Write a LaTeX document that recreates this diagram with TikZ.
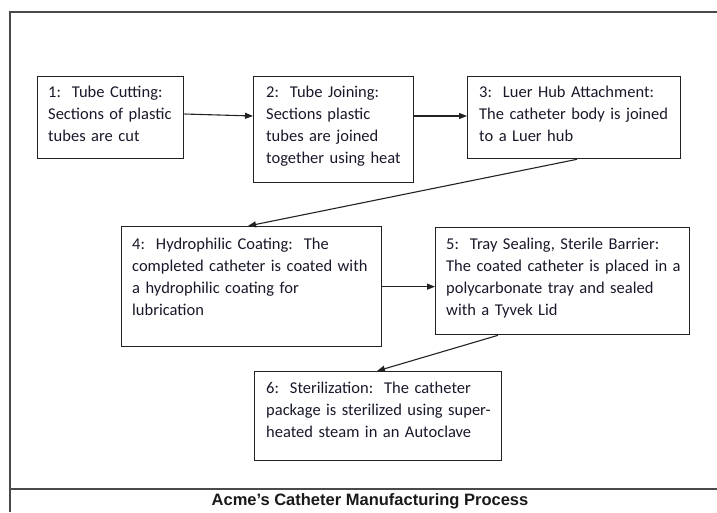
\documentclass[tikz,border=0pt]{standalone}
\usepackage{fontspec}
\setmainfont{Carlito}
\newfontfamily\captionfont{Liberation Sans}
\usetikzlibrary{arrows.meta,calc}

\definecolor{boxline}{HTML}{222222}
\definecolor{framec}{HTML}{4A4A4A}
\definecolor{inkc}{HTML}{18182A}

\begin{document}
\begin{tikzpicture}[x=1pt,y=-1pt,
  stepbox/.style={draw=boxline, line width=1.3pt, rectangle, inner sep=0pt, anchor=north west},
  steptext/.style={anchor=base west, inner sep=0pt, text width=#1, align=left,
    font=\fontsize{16.5}{22}\selectfont, text=inkc},
  flow/.style={draw=boxline, line width=1.1pt, -{Triangle[length=8pt,width=6pt]}},
  frameline/.style={draw=framec, line width=2pt}]

\useasboundingbox (0,0) rectangle (717,512);

% outer frame and caption rule
\draw[frameline] (9.5,512) -- (9.5,12) -- (717,12);
\draw[frameline] (9.5,489) -- (717,489);

% process steps
\node[stepbox, minimum width=146pt, minimum height=82pt]  (b1) at (37,76)  {};
\node[stepbox, minimum width=160pt, minimum height=106pt] (b2) at (253,76) {};
\node[stepbox, minimum width=213pt, minimum height=82pt]  (b3) at (467,76) {};
\node[stepbox, minimum width=260pt, minimum height=120pt] (b4) at (121,226) {};
\node[stepbox, minimum width=254pt, minimum height=107pt] (b5) at (435,227) {};
\node[stepbox, minimum width=247pt, minimum height=89pt]  (b6) at (254,371) {};

\node[steptext=132pt] (t1) at ([xshift=11pt,yshift=-21.5pt]b1.north west)
  {1:~~Tube Cutting:\\Sections of plastic\\tubes are cut};
\node[steptext=146pt] (t2) at ([xshift=13pt,yshift=-21.5pt]b2.north west)
  {2:~~Tube Joining:\\Sections plastic\\tubes are joined\\together using heat};
\node[steptext=199pt] (t3) at ([xshift=12pt,yshift=-21.5pt]b3.north west)
  {3:~~Luer Hub Attachment:\\The catheter body is joined\\to a Luer hub};
\node[steptext=246pt] (t4) at ([xshift=11pt,yshift=-23pt]b4.north west)
  {4:~~Hydrophilic Coating:~~The\\completed catheter is coated with\\a hydrophilic coating for\\lubrication};
\node[steptext=240pt] (t5) at ([xshift=11pt,yshift=-22pt]b5.north west)
  {5:~~Tray Sealing, Sterile Barrier:\\The coated catheter is placed in a\\polycarbonate tray and sealed\\with a Tyvek Lid};
\node[steptext=233pt] (t6) at ([xshift=12pt,yshift=-22pt]b6.north west)
  {6:~~Sterilization:~~The catheter\\package is sterilized using super-\\heated steam in an Autoclave};

% connectors
\draw[flow] ([yshift=-38pt]b1.north east) -- ([yshift=-40pt]b2.north west);
\draw[flow] ([yshift=-40pt]b2.north east) -- ([yshift=-40pt]b3.north west);
\draw[flow] ([xshift=110pt]b3.south west) -- ([xshift=127pt]b4.north west);
\draw[flow] (b4.east) -- (b4.east -| b5.west);
\draw[flow] ([xshift=63pt]b5.south west) -- ([xshift=123pt]b6.north west);

% caption
\node[anchor=base, inner sep=0pt, text=black!90,
  font=\captionfont\bfseries\fontsize{16.5}{20}\selectfont] (cap) at (370,505)
  {Acme’s Catheter Manufacturing Process};

\end{tikzpicture}
\end{document}
